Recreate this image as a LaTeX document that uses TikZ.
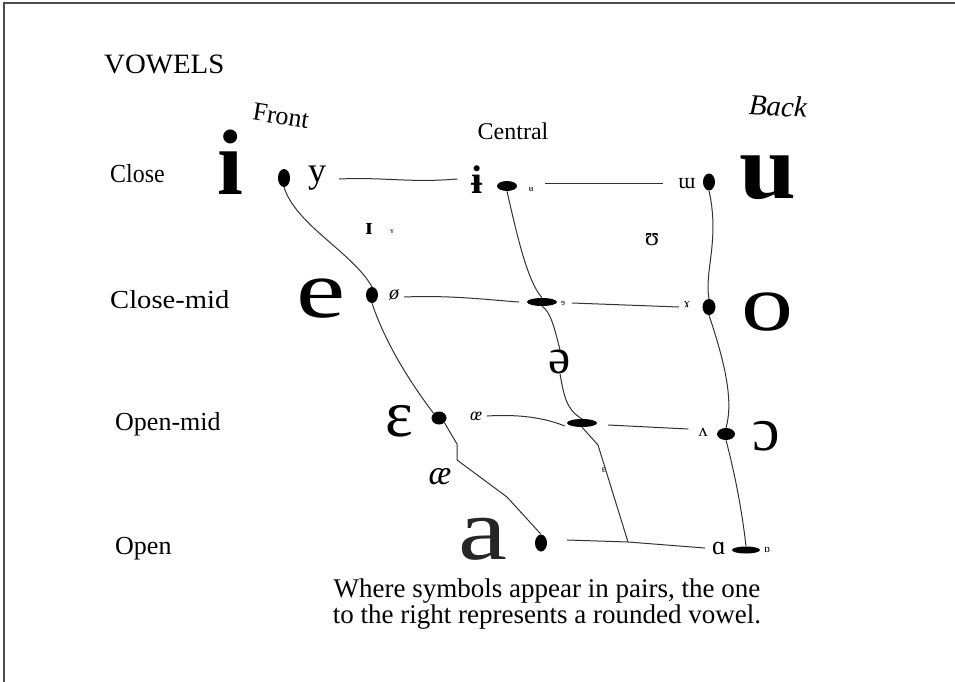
\documentclass[tikz,border=0pt]{standalone}
\usepackage{fontspec}
\setmainfont{Liberation Serif}
\usetikzlibrary{shapes.geometric}
\newcommand{\fs}[1]{\fontsize{#1}{#1}\selectfont}
\begin{document}
\begin{tikzpicture}[x=1pt,y=-1pt,
  dot/.style={ellipse,fill=black,inner sep=0pt},
  ln/.style={line width=1pt,black!80},
  lab/.style={font=\fs{26},inner sep=0pt,anchor=west},
  sym/.style={inner sep=0pt}]
\useasboundingbox (0,0) rectangle (955,682);
\draw[line width=2pt,black!70] (4,682) -- (4,3) -- (955,3);
% titles
\node[sym,font=\fs{28},anchor=west] (title) at (104,64) {\scalebox{1.03}[1]{VOWELS}};
\node[sym,font=\fs{26},rotate=-9] (front) at (281,116) {Front};
\node[sym,font=\fs{24}] (central) at (513,131) {Central};
\node[sym,font=\fs{29}\itshape,rotate=-3] (back) at (778,106) {Back};
\node[lab] (close) at (110,174) {\scalebox{0.92}[1]{Close}};
\node[lab] (closemid) at (110,300) {\scalebox{1.1}[1]{Close-mid}};
\node[lab] (openmid) at (115,424) {Open-mid};
\node[lab] (open) at (115,549) {Open};
% dots
\node[dot,minimum width=12pt,minimum height=18pt] (f1) at (284,178) {};
\node[dot,minimum width=12pt,minimum height=16pt] (f2) at (372,295) {};
\node[dot,minimum width=15pt,minimum height=13pt] (f3) at (439,418) {};
\node[dot,minimum width=12pt,minimum height=17pt] (f4) at (541,543) {};
\node[dot,minimum width=20pt,minimum height=10pt] (c1) at (507,186) {};
\node[dot,minimum width=30pt,minimum height=8pt] (c2) at (542,302) {};
\node[dot,minimum width=30pt,minimum height=8pt] (c3) at (582,423) {};
\node[dot,minimum width=12pt,minimum height=17pt] (b1) at (709,182) {};
\node[dot,minimum width=13pt,minimum height=16pt] (b2) at (709,307) {};
\node[dot,minimum width=18pt,minimum height=12pt] (b3) at (726,434) {};
\node[dot,minimum width=28pt,minimum height=7pt] (b4) at (746,550) {};
% symbols
\node[sym,font=\fs{93}\bfseries] (si) at (230,162) {i};
\node[sym,font=\fs{36}] (sy) at (317,178) {y};
\node[sym,font=\fs{40}\bfseries] (sbi) at (477,180) {ɨ};
\node[sym,font=\fs{9}] (sbu) at (531,189) {ʉ};
\node[sym,font=\fs{22}] (smu) at (687,184) {ɯ};
\node[sym,font=\fs{93}\bfseries] (su) at (768,178) {\scalebox{1.1}[1]{u}};
\node[sym,font=\fs{24}\bfseries] (ssi) at (369,229) {ɪ};
\node[sym,font=\fs{8}] (ssy) at (392,232) {ʏ};
\node[sym,font=\fs{26}] (ssu) at (652,240) {ʊ};
\node[sym,font=\fs{82}] (se) at (321,299) {\scalebox{1.35}[1]{e}};
\node[sym,font=\fs{20}\itshape] (soe) at (394,295) {ø};
\node[sym,font=\fs{9}] (srev) at (563,303) {ɘ};
\node[sym,font=\fs{13}] (sram) at (687,305) {ɤ};
\node[sym,font=\fs{80}] (so) at (767,312) {\scalebox{1.3}[1]{o}};
\node[sym,font=\fs{50}] (sschwa) at (560,362) {ə};
\node[sym,font=\fs{66}] (seps) at (399,421) {ɛ};
\node[sym,font=\fs{18}\itshape] (soe2) at (476,416) {œ};
\node[sym,font=\fs{18}] (swedge) at (703,432) {ʌ};
\node[sym,font=\fs{62}] (sopo) at (766,436) {ɔ};
\node[sym,font=\fs{34}\itshape] (sae) at (440,477) {æ};
\node[sym,font=\fs{10}] (sturna) at (604,470) {ɐ};
\node[sym,font=\fs{88},text=black!85] (sa) at (483,539) {\scalebox{1.25}[1]{a}};
\node[sym,font=\fs{26}] (salpha) at (719,548) {ɑ};
\node[sym,font=\fs{11}] (sturnalpha) at (767,550) {ɒ};
\coordinate (j) at (628,542);
% vertical connectors
\draw[ln] (f1.south) .. controls (296,225) and (352,252) .. (f2.north);
\draw[ln] (f2.south) .. controls (386,345) and (412,385) .. (f3.north west);
\draw[ln] (f3.south east) -- (457,444) -- (457,460) -- (507,497) -- (f4.north);
\draw[ln] (c1.south) .. controls (518,240) and (528,282) .. (c2.north);
\draw[ln] (c2.south) .. controls (550,312) and (553,322) .. (sschwa.north);
\draw[ln] (sschwa.south) .. controls (564,395) and (566,410) .. (c3.north);
\draw[ln] (c3.south) -- (598,445) -- (j);
\draw[ln] (b1.south) .. controls (720,240) and (704,272) .. (b2.north);
\draw[ln] (b2.south) .. controls (724,360) and (734,400) .. (b3.north);
\draw[ln] (b3.south) .. controls (734,470) and (742,510) .. (b4.north);
% horizontal connectors
\draw[ln] ([xshift=13pt,yshift=-1pt]sy.east) .. controls (385,177) and (410,183) .. ([xshift=-14pt,yshift=1pt]sbi.west);
\draw[ln] ([xshift=12pt,yshift=6pt]sbu.east) -- ([xshift=-15pt,yshift=1pt]smu.west);
\draw[ln] ([xshift=5pt,yshift=-2pt]soe.east) .. controls (450,295) and (490,300) .. ([xshift=-8pt]c2.west);
\draw[ln] ([xshift=7pt]srev.east) -- ([xshift=-5pt,yshift=-2pt]sram.west);
\draw[ln] ([xshift=5pt]soe2.east) .. controls (520,414) and (545,418) .. ([xshift=-2pt,yshift=-3pt]c3.west);
\draw[ln] ([xshift=11pt,yshift=-2pt]c3.east) -- ([xshift=-10pt,yshift=3pt]swedge.west);
\draw[ln] ([xshift=20pt,yshift=3pt]f4.east) -- (j) -- ([xshift=-7pt]salpha.west);
% caption
\node[sym,font=\fontsize{27}{26}\selectfont,align=center] (caption) at (547,604) {Where symbols appear in pairs, the one\\to the right represents a rounded vowel.};
\end{tikzpicture}
\end{document}
